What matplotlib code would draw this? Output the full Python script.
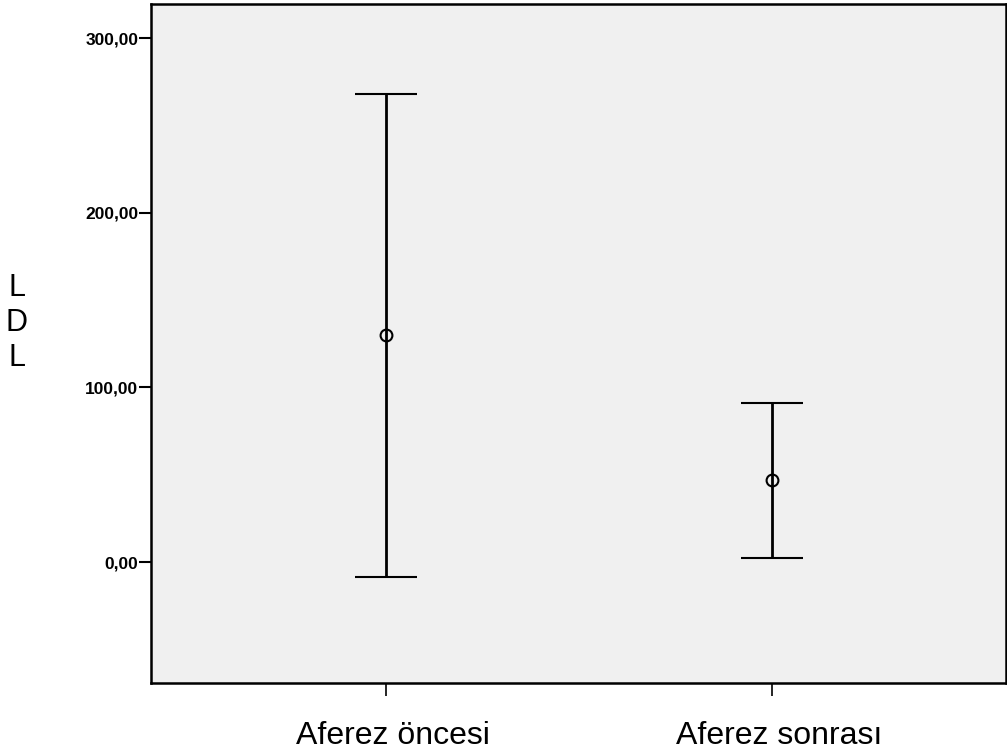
import matplotlib
matplotlib.use('Agg')
import matplotlib.pyplot as plt
import matplotlib.transforms as mtransforms
import numpy as np

## data (SPSS style error bar chart)
groups = ['Aferez öncesi', 'Aferez sonrası']
means = np.array([130.1, 46.8])
lower = np.array([-8.8, 2.5])
upper = np.array([267.9, 90.9])
yticks = [0, 100, 200, 300]

plt.rcParams['font.family'] = ['Liberation Sans', 'DejaVu Sans']

fig = plt.figure(figsize=(10.07, 7.51), dpi=100)
ax = fig.add_axes([151/1007, 1 - 683/751, 855/1007, 679/751])
ax.set_facecolor('#f0f0f0')

x = np.arange(1, len(groups) + 1)
ax.errorbar(x, means, yerr=[means - lower, upper - means], fmt='o',
            color='black', mfc='none', mec='black', ms=8.5, mew=1.5,
            elinewidth=2.0, capsize=22, capthick=2.0)

ax.set_xlim(0.391, 2.606)
ax.set_ylim(-69.3, 319.6)
ax.set_xticks(x)
ax.set_xticklabels(groups, fontsize=23)
ax.set_yticks(yticks)
ax.set_yticklabels(['{:.2f}'.format(v).replace('.', ',') for v in yticks],
                   fontsize=12.5, fontweight='bold')

for s in ax.spines.values():
    s.set_linewidth(1.8)
ax.tick_params('y', direction='out', length=9, width=1.5, pad=0)
ax.tick_params('x', direction='out', length=9, width=1.2, pad=18)

# SPSS puts the category labels slightly right of the tick
shift = mtransforms.ScaledTranslation(7/100, 0, fig.dpi_scale_trans)
for lab in ax.get_xticklabels():
    lab.set_transform(lab.get_transform() + shift)

fig.text(17/1007, 1 - 323/751, 'L\nD\nL', fontsize=22, ha='center', va='center',
         linespacing=1.2)

plt.savefig('out.png', format='png')
plt.close(fig)
